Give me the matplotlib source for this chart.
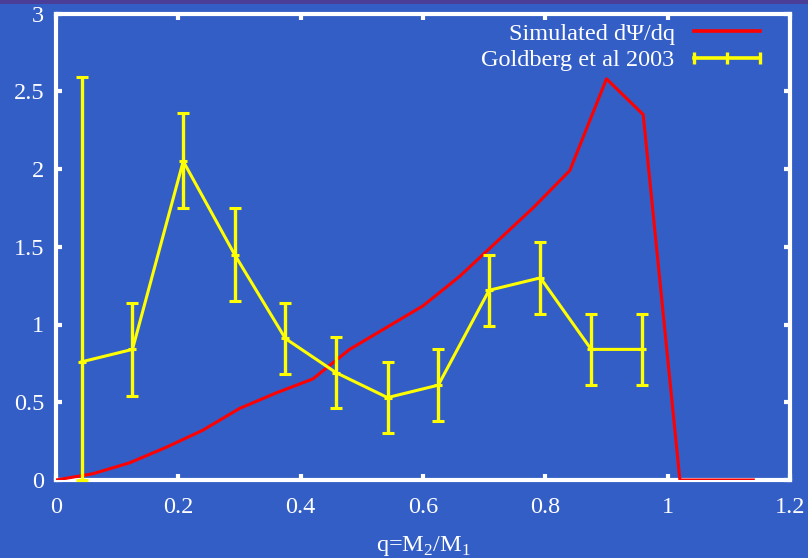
import matplotlib
matplotlib.use("Agg")
import matplotlib.pyplot as plt
from matplotlib.lines import Line2D
from matplotlib.patches import Rectangle

# -------------------------------------------------------
# DATA
# -------------------------------------------------------
sim_q   = [0.00, 0.06, 0.12, 0.18, 0.24, 0.30, 0.36, 0.42, 0.48, 0.54,
           0.60, 0.66, 0.72, 0.78, 0.84, 0.90, 0.96, 1.02, 1.08, 1.14]
sim_val = [0.00, 0.04, 0.11, 0.21, 0.32, 0.46, 0.56, 0.65, 0.84, 0.98,
           1.12, 1.31, 1.53, 1.75, 1.99, 2.58, 2.35, 0.00, 0.00, 0.00]

obs_q     = [0.042, 0.125, 0.208, 0.292, 0.375, 0.458,
             0.542, 0.625, 0.708, 0.792, 0.875, 0.958]
obs_val   = [0.76, 0.84, 2.05, 1.45, 0.91, 0.69,
             0.53, 0.61, 1.22, 1.30, 0.84, 0.84]
obs_lower = [0.76, 0.30, 0.30, 0.30, 0.23, 0.23,
             0.23, 0.23, 0.23, 0.23, 0.23, 0.23]
obs_upper = [1.83, 0.30, 0.31, 0.30, 0.23, 0.23,
             0.23, 0.23, 0.23, 0.23, 0.23, 0.23]

x_ticks  = [0, 0.2, 0.4, 0.6, 0.8, 1.0, 1.2]
x_labels = ["0", "0.2", "0.4", "0.6", "0.8", "1", "1.2"]
y_ticks  = [0, 0.5, 1.0, 1.5, 2.0, 2.5, 3.0]
y_labels = ["0", "0.5", "1", "1.5", "2", "2.5", "3"]

BG     = "#335EC6"
BAND   = "#4A3E98"
WHITE  = "white"
RED    = "#FF0000"
YELLOW = "#FFFF00"

plt.rcParams["font.family"] = ["Liberation Serif", "DejaVu Serif"]
plt.rcParams["mathtext.fontset"] = "custom"
plt.rcParams["mathtext.rm"] = "Liberation Serif"

fig = plt.figure(figsize=(8.08, 5.58), dpi=100)
fig.patch.set_facecolor(BG)
fig.patches.append(Rectangle((0, 1 - 4 / 558), 1, 4 / 558, transform=fig.transFigure,
                             facecolor=BAND, edgecolor="none"))

ax = fig.add_axes([56 / 808, 1 - 480 / 558, 734 / 808, 466.5 / 558])
ax.set_facecolor(BG)

ax.plot(sim_q, sim_val, color=RED, lw=2.2, zorder=3)
ax.errorbar(obs_q, obs_val, yerr=[obs_lower, obs_upper], color=YELLOW, lw=2.2,
            elinewidth=2.4, capsize=4.5, capthick=2.2, marker="_", ms=6, mew=2.2,
            zorder=4, clip_on=False)

ax.set_xlim(0, 1.2)
ax.set_ylim(0, 3)
ax.set_xticks(x_ticks)
ax.set_xticklabels(x_labels)
ax.set_yticks(y_ticks)
ax.set_yticklabels(y_labels)
ax.tick_params(direction="in", length=4.5, width=3, color=WHITE, labelcolor=WHITE,
               labelsize=17.5, top=True, right=True)
ax.tick_params(axis="x", pad=12)
ax.tick_params(axis="y", pad=8.5)
for spine in ax.spines.values():
    spine.set_edgecolor(WHITE)
    spine.set_linewidth(3)

ax.set_xlabel(r"q=M$_{\mathrm{2}}$/M$_{\mathrm{1}}$", color=WHITE, fontsize=17.5, labelpad=12)

handles = [
    Line2D([], [], color=RED, lw=2.6),
    Line2D([], [], color=YELLOW, lw=2.6, marker="|", ms=8, mew=2.4),
]
ax.legend(handles, ["Simulated d\u03a8/dq", "Goldberg et al 2003"],
          loc="upper right", bbox_to_anchor=(711 / 734, 0.98), frameon=False,
          markerfirst=False, numpoints=3, fontsize=17.5, handlelength=3.3,
          handletextpad=0.5, labelspacing=0.18, borderpad=0, borderaxespad=0,
          labelcolor=WHITE)

plt.savefig("out.png", dpi=100, facecolor=fig.get_facecolor())
plt.close()
